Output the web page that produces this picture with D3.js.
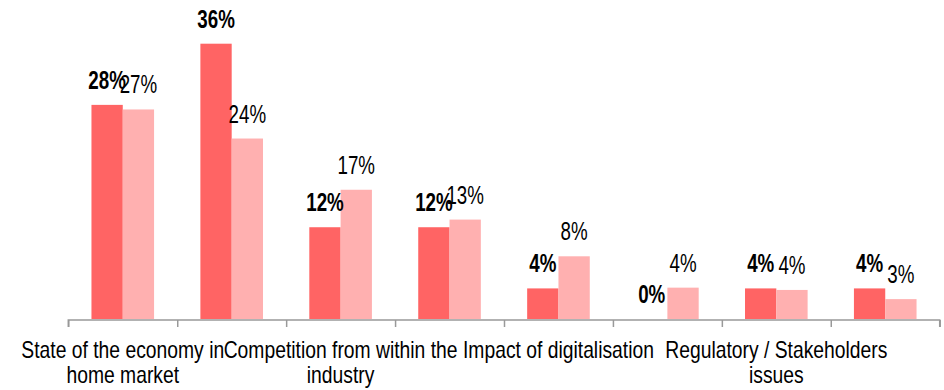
<!DOCTYPE html>
<html>
<head>
<meta charset="utf-8">
<script src="https://cdn.jsdelivr.net/npm/d3@7"></script>
<style>
  html, body { margin: 0; padding: 0; background: #fff; }
  svg { display: block; }
  text { font-family: "Liberation Sans", Arial, sans-serif; fill: #000; }
</style>
</head>
<body>
<svg id="chart" width="944" height="390"></svg>
<script>
// Category names (alternate axis labels are skipped, as in the original layout)
const categories = [
  "State of the economy in home market",
  "",
  "Competition from within the industry",
  "",
  "Impact of digitalisation",
  "",
  "Regulatory / Stakeholders issues",
  ""
];
const seriesNames = ["Series A", "Series B"];
const seriesA = [0.28, 0.36, 0.12, 0.12, 0.04, 0.00, 0.04, 0.04];
const seriesB = [0.274, 0.236, 0.169, 0.130, 0.082, 0.041, 0.038, 0.026];
const colors = ["#ff6464", "#ffb0b0"];

const svg = d3.select("#chart");
const left = 68.3, right = 939.7, baseY = 319, topY = 43.7;

const x0 = d3.scaleBand().domain(d3.range(categories.length)).range([left, right]).padding(0);
const x1 = d3.scaleBand().domain(seriesNames).range([0, x0.bandwidth()]).paddingInner(0).paddingOuter(0.74);
const y = d3.scaleLinear().domain([0, 0.36]).range([baseY, topY]);
const fmt = d3.format(".0%");

const rows = categories.map((c, i) => ({ i, vals: [seriesA[i], seriesB[i]] }));

// Bars
const groups = svg.append("g").selectAll("g").data(rows).join("g")
  .attr("transform", d => `translate(${x0(d.i)},0)`);

groups.selectAll("rect").data(d => d.vals.map((v, k) => ({ k, v })))
  .join("rect")
  .attr("x", d => x1(seriesNames[d.k]))
  .attr("y", d => y(d.v))
  .attr("width", x1.bandwidth())
  .attr("height", d => baseY - y(d.v))
  .attr("fill", d => colors[d.k]);

// Value labels (condensed)
const labelScale = 0.75;
groups.selectAll("text").data(d => d.vals.map((v, k) => ({ k, v })))
  .join("text")
  .attr("text-anchor", "middle")
  .attr("font-size", 25)
  .attr("font-weight", d => d.k === 0 ? "bold" : "normal")
  .attr("transform", d => `translate(${x1(seriesNames[d.k]) + x1.bandwidth() / 2},${y(d.v) - 16}) scale(${labelScale},1)`)
  .text(d => fmt(d.v));

// Axis line with ticks at category boundaries
const axis = d3.axisBottom(d3.scaleLinear().domain([0, categories.length]).range([left, right]))
  .ticks(categories.length)
  .tickSize(7)
  .tickFormat("");
const ax = svg.append("g").attr("transform", `translate(0,${baseY + 1})`).call(axis);
ax.select(".domain").attr("stroke", "#999").attr("stroke-width", 1.5).attr("d", `M${left},7V0H${right}V7`);
ax.selectAll(".tick line").attr("stroke", "#999").attr("stroke-width", 1.5);

// Category labels, wrapped onto two lines
const catScale = 0.84;
const catSize = 23;
const maxWidth = 245;
const catG = svg.append("g");
categories.forEach((name, i) => {
  if (!name) return;
  const cx = x0(i) + x0.bandwidth() / 2;
  const words = name.split(" ");
  const lines = [];
  let line = [];
  const probe = catG.append("text").attr("font-size", catSize);
  words.forEach(w => {
    const trial = line.concat(w).join(" ");
    probe.text(trial);
    if (probe.node().getComputedTextLength() * catScale > maxWidth && line.length) {
      lines.push(line.join(" "));
      line = [w];
    } else {
      line.push(w);
    }
  });
  lines.push(line.join(" "));
  probe.remove();
  lines.forEach((ln, j) => {
    catG.append("text")
      .attr("font-size", catSize)
      .attr("text-anchor", "middle")
      .attr("transform", `translate(${cx},${358 + j * 25}) scale(${catScale},1)`)
      .text(ln);
  });
});
</script>
</body>
</html>
